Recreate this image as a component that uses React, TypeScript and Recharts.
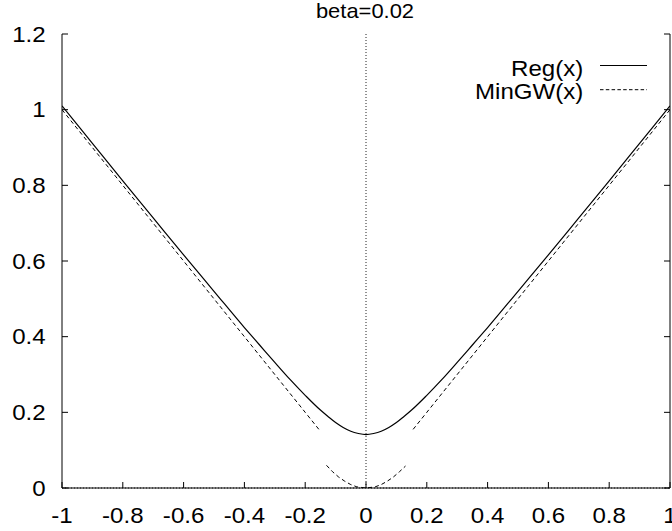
import React from "react";
import { LineChart, Line, XAxis, YAxis, ReferenceLine } from "recharts";

const title = "beta=0.02";
const seriesNames = ["Reg(x)", "MinGW(x)"];

const xTicks = [-1, -0.8, -0.6, -0.4, -0.2, 0, 0.2, 0.4, 0.6, 0.8, 1];
const yTicks = [0, 0.2, 0.4, 0.6, 0.8, 1, 1.2];

const regX = [-1, -0.9, -0.8, -0.7, -0.6, -0.5, -0.4, -0.35, -0.3, -0.25, -0.2, -0.15, -0.125, -0.1, -0.075, -0.05, -0.025, 0, 0.025, 0.05, 0.075, 0.1, 0.125, 0.15, 0.2, 0.25, 0.3, 0.35, 0.4, 0.5, 0.6, 0.7, 0.8, 0.9, 1];
const regY = [1.01, 0.911, 0.812, 0.714, 0.616, 0.52, 0.424, 0.378, 0.332, 0.287, 0.245, 0.206, 0.189, 0.173, 0.16, 0.15, 0.144, 0.141, 0.144, 0.15, 0.16, 0.173, 0.189, 0.206, 0.245, 0.287, 0.332, 0.378, 0.424, 0.52, 0.616, 0.714, 0.812, 0.911, 1.01];

const mingwX = [-1, -0.8, -0.6, -0.4, -0.2, -0.155, -0.14, -0.13, -0.11, -0.09, -0.07, -0.05, -0.03, 0, 0.03, 0.05, 0.07, 0.09, 0.11, 0.13, 0.14, 0.155, 0.2, 0.4, 0.6, 0.8, 1];
const mingwY: (number | null)[] = [1.0, 0.8, 0.6, 0.4, 0.2, 0.155, null, 0.06, 0.043, 0.029, 0.018, 0.009, 0.003, 0, 0.003, 0.009, 0.018, 0.029, 0.043, 0.058, null, 0.155, 0.2, 0.4, 0.6, 0.8, 1.0];

const regData = regX.map((x, i) => ({ x, y: regY[i] }));
const mingwData = mingwX.map((x, i) => ({ x, y: mingwY[i] }));

const FONT = "'Liberation Sans', Arial, Helvetica, sans-serif";
const FS = 21.5;
const SX = 1.12;

const fmt = (v: number) => String(v);

const Label = ({ x, y, anchor, baseline, size, sx, children }: any) => (
  <g transform={`translate(${x},${y})`}>
    <text
      transform={`scale(${sx},1)`}
      x={0}
      y={0}
      textAnchor={anchor}
      dominantBaseline={baseline}
      fontSize={size}
      fontFamily={FONT}
      fill="#000"
    >
      {children}
    </text>
  </g>
);

const BottomTick = (props: any) => {
  const { x, y, payload } = props;
  return (
    <g>
      <line x1={x} y1={y} x2={x} y2={y - 6} stroke="#000" strokeWidth={1} />
      <Label x={x} y={y + 27.5} anchor="middle" baseline="central" size={FS} sx={SX}>
        {fmt(payload.value)}
      </Label>
    </g>
  );
};

const TopTick = (props: any) => {
  const { x, y } = props;
  return <line x1={x} y1={y} x2={x} y2={y + 6} stroke="#000" strokeWidth={1} />;
};

const LeftTick = (props: any) => {
  const { x, y, payload } = props;
  return (
    <g>
      <line x1={x} y1={y} x2={x + 6} y2={y} stroke="#000" strokeWidth={1} />
      <Label x={x - 16.3} y={y} anchor="end" baseline="central" size={FS} sx={SX}>
        {fmt(payload.value)}
      </Label>
    </g>
  );
};

const RightTick = (props: any) => {
  const { x, y } = props;
  return <line x1={x} y1={y} x2={x - 6} y2={y} stroke="#000" strokeWidth={1} />;
};

export default function App() {
  return (
    <div style={{ position: "absolute", left: 0, top: 0, width: 672, height: 531, background: "#fff", fontFamily: FONT }}>
      <LineChart width={672} height={531} margin={{ top: 34, right: 0, bottom: 0, left: 0 }}>
        <XAxis
          xAxisId="b"
          dataKey="x"
          type="number"
          domain={[-1, 1]}
          ticks={xTicks}
          allowDataOverflow
          orientation="bottom"
          height={43}
          tickSize={0}
          tickMargin={0}
          tickLine={false}
          axisLine={{ stroke: "#000", strokeWidth: 1 }}
          tick={<BottomTick />}
          interval={0}
        />
        <XAxis
          xAxisId="t"
          dataKey="x"
          type="number"
          domain={[-1, 1]}
          ticks={xTicks}
          allowDataOverflow
          orientation="top"
          height={0}
          tickSize={0}
          tickMargin={0}
          tickLine={false}
          axisLine={{ stroke: "#000", strokeWidth: 1 }}
          tick={<TopTick />}
          interval={0}
        />
        <YAxis
          yAxisId="l"
          type="number"
          domain={[0, 1.2]}
          ticks={yTicks}
          allowDataOverflow
          orientation="left"
          width={62}
          tickSize={0}
          tickMargin={0}
          tickLine={false}
          axisLine={{ stroke: "#000", strokeWidth: 1 }}
          tick={<LeftTick />}
          interval={0}
        />
        <YAxis
          yAxisId="r"
          type="number"
          domain={[0, 1.2]}
          ticks={yTicks}
          allowDataOverflow
          orientation="right"
          width={2}
          tickSize={0}
          tickMargin={0}
          tickLine={false}
          axisLine={{ stroke: "#000", strokeWidth: 1 }}
          tick={<RightTick />}
          interval={0}
        />
        <ReferenceLine xAxisId="b" yAxisId="l" x={0} stroke="#222" strokeDasharray="1 2" strokeWidth={1} />
        <ReferenceLine xAxisId="b" yAxisId="l" y={0} stroke="#222" strokeDasharray="1 2" strokeWidth={1} />
        <Line
          xAxisId="b"
          yAxisId="l"
          data={regData}
          dataKey="y"
          name={seriesNames[0]}
          type="monotone"
          stroke="#000"
          strokeWidth={1.2}
          dot={false}
          activeDot={false}
          isAnimationActive={false}
        />
        <Line
          xAxisId="b"
          yAxisId="l"
          data={mingwData}
          dataKey="y"
          name={seriesNames[1]}
          type="linear"
          stroke="#000"
          strokeWidth={1}
          strokeDasharray="4 3"
          dot={false}
          activeDot={false}
          connectNulls={false}
          isAnimationActive={false}
        />
      </LineChart>
      <svg width={672} height={531} style={{ position: "absolute", left: 0, top: 0, pointerEvents: "none" }}>
        <Label x={365} y={18} anchor="middle" baseline="alphabetic" size={20.5} sx={1.07}>
          {title}
        </Label>
        <Label x={583.3} y={76.3} anchor="end" baseline="alphabetic" size={FS} sx={SX}>
          {seriesNames[0]}
        </Label>
        <line x1={600} y1={65.5} x2={647} y2={65.5} stroke="#000" strokeWidth={1} />
        <Label x={583.3} y={98.7} anchor="end" baseline="alphabetic" size={FS} sx={SX}>
          {seriesNames[1]}
        </Label>
        <line x1={600} y1={89.7} x2={647} y2={89.7} stroke="#000" strokeWidth={1} strokeDasharray="3.5 2.3" />
      </svg>
    </div>
  );
}
